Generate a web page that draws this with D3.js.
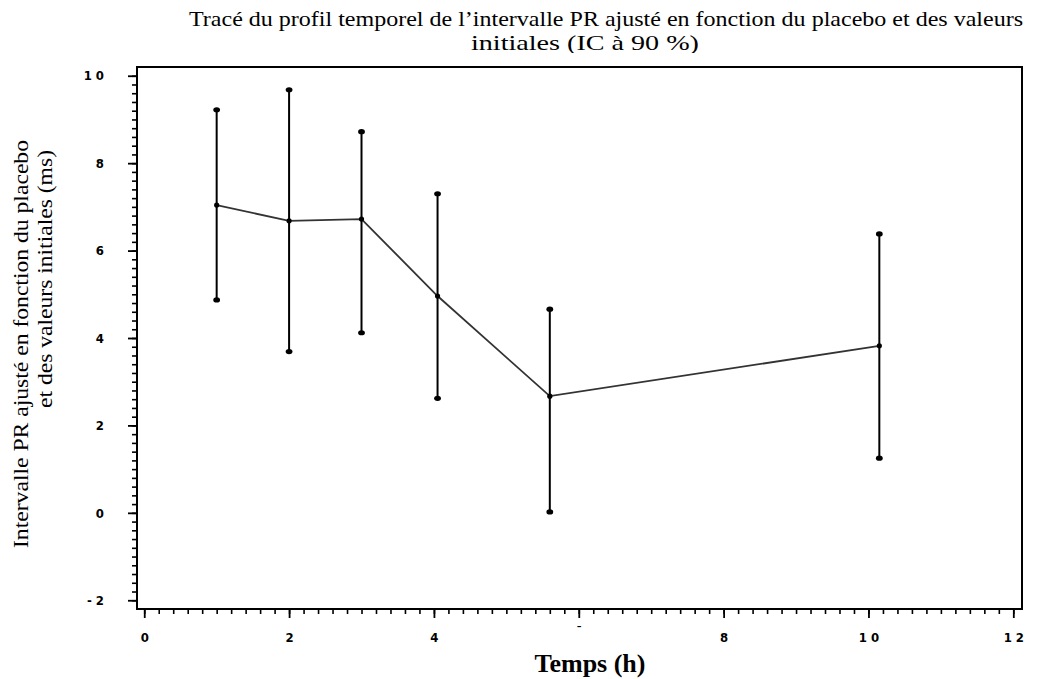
<!DOCTYPE html>
<html>
<head>
<meta charset="utf-8">
<script src="https://cdn.jsdelivr.net/npm/d3@7"></script>
<style>
  body { margin: 0; background: #fff; }
</style>
</head>
<body>
<div id="scene"></div>
<script>
// values
var times = [1, 2, 3, 4.05, 5.6, 10.15];
var means = [7.04, 6.68, 6.72, 4.96, 2.67, 3.82];
var lowers = [4.87, 3.69, 4.12, 2.62, 0.02, 1.25];
var uppers = [9.22, 9.68, 8.72, 7.30, 4.66, 6.38];

var xTicks = [0, 2, 4, 6, 8, 10, 12];
var xTickLabels = ["0", "2", "4", "\u00af", "8", "1 0", "1 2"];
var yTicks = [-2, 0, 2, 4, 6, 8, 10];
var yTickLabels = ["- 2", "0", "2", "4", "6", "8", "1 0"];

var titleLines = ["Trac\u00e9 du profil temporel de l\u2019intervalle PR ajust\u00e9 en fonction du placebo et des valeurs",
  "initiales (IC \u00e0 90 %)"];
var yLabelLines = ["Intervalle PR ajust\u00e9 en fonction du placebo", "et des valeurs initiales (ms)"];
var xLabel = "Temps (h)";

var ctx = {
  w: 1037,
  h: 679,
  left: 137,
  right: 1022,
  top: 67,
  bottom: 609
};

var serif = "'Liberation Serif', 'Times New Roman', serif";
var tickFont = "'DejaVu Sans Condensed', 'DejaVu Sans', sans-serif";

var svg = d3.select("#scene").append("svg")
  .attr("width", ctx.w)
  .attr("height", ctx.h);

var x = d3.scaleLinear().domain([-0.1, 12.12]).range([ctx.left, ctx.right]);
var y = d3.scaleLinear().domain([-2.2, 10.2]).range([ctx.bottom, ctx.top]);

// title (second line is cut at the bottom in the original)
svg.append("clipPath").attr("id", "titleClip")
  .append("rect").attr("x", 0).attr("y", 0).attr("width", ctx.w).attr("height", 53);

var title = svg.append("g").attr("clip-path", "url(#titleClip)");
title.append("text")
  .attr("x", 606).attr("y", 26)
  .attr("text-anchor", "middle")
  .attr("textLength", 834).attr("lengthAdjust", "spacingAndGlyphs")
  .style("font-family", serif).style("font-size", "22px")
  .text(titleLines[0]);
title.append("text")
  .attr("x", 585).attr("y", 50)
  .attr("text-anchor", "middle")
  .attr("textLength", 228).attr("lengthAdjust", "spacingAndGlyphs")
  .style("font-family", serif).style("font-size", "22px")
  .text(titleLines[1]);

// minor ticks
var xMinor = d3.range(0, 12.001, 0.2).map(function (d) { return +d.toFixed(1); });
var yMinor = d3.range(-2, 10.001, 0.2).map(function (d) { return +d.toFixed(1); });

svg.append("g")
  .attr("transform", "translate(0," + ctx.bottom + ")")
  .call(d3.axisBottom(x).tickValues(xMinor).tickSize(5).tickFormat(""))
  .call(function (g) { g.select(".domain").remove(); })
  .selectAll("line").attr("stroke-width", 1.6);

svg.append("g")
  .attr("transform", "translate(" + ctx.left + ",0)")
  .call(d3.axisLeft(y).tickValues(yMinor).tickSize(5).tickFormat(""))
  .call(function (g) { g.select(".domain").remove(); })
  .selectAll("line").attr("stroke-width", 1.6);

// major ticks
var xAxis = svg.append("g")
  .attr("transform", "translate(0," + ctx.bottom + ")")
  .call(d3.axisBottom(x).tickValues(xTicks).tickSize(9).tickPadding(15)
    .tickFormat(function (d, i) { return xTickLabels[i]; }));
xAxis.select(".domain").remove();
xAxis.selectAll("line").attr("stroke-width", 1.8);
xAxis.selectAll("text")
  .attr("font-family", tickFont).attr("font-size", 13).attr("font-weight", "bold");
xAxis.selectAll("text").filter(function (d) { return d === 6; }).attr("dy", "0.2em");

var yAxis = svg.append("g")
  .attr("transform", "translate(" + ctx.left + ",0)")
  .call(d3.axisLeft(y).tickValues(yTicks).tickSize(9).tickPadding(24)
    .tickFormat(function (d, i) { return yTickLabels[i]; }));
yAxis.select(".domain").remove();
yAxis.selectAll("line").attr("stroke-width", 1.8);
yAxis.selectAll("text")
  .attr("font-family", tickFont).attr("font-size", 13).attr("font-weight", "bold");

// frame
svg.append("rect")
  .attr("x", ctx.left).attr("y", ctx.top)
  .attr("width", ctx.right - ctx.left).attr("height", ctx.bottom - ctx.top)
  .attr("fill", "none").attr("stroke", "#000").attr("stroke-width", 2);

// error bars
var pts = times.map(function (t, i) {
  return { t: t, m: means[i], lo: lowers[i], hi: uppers[i] };
});

svg.selectAll(".bar").data(pts).enter().append("line")
  .attr("class", "bar")
  .attr("x1", function (d) { return x(d.t); }).attr("x2", function (d) { return x(d.t); })
  .attr("y1", function (d) { return y(d.lo); }).attr("y2", function (d) { return y(d.hi); })
  .attr("stroke", "#000").attr("stroke-width", 2);

// mean profile
var line = d3.line()
  .x(function (d) { return x(d.t); })
  .y(function (d) { return y(d.m); });

svg.append("path").datum(pts)
  .attr("d", line)
  .attr("fill", "none").attr("stroke", "#333").attr("stroke-width", 1.8);

var ends = [];
pts.forEach(function (d) {
  ends.push({ t: d.t, v: d.lo });
  ends.push({ t: d.t, v: d.hi });
});

svg.selectAll(".endMark").data(ends).enter().append("ellipse")
  .attr("class", "endMark")
  .attr("cx", function (d) { return x(d.t); })
  .attr("cy", function (d) { return y(d.v); })
  .attr("rx", 3.4).attr("ry", 2.6)
  .attr("fill", "#000");

svg.selectAll(".meanMark").data(pts).enter().append("circle")
  .attr("class", "meanMark")
  .attr("cx", function (d) { return x(d.t); })
  .attr("cy", function (d) { return y(d.m); })
  .attr("r", 2.6)
  .attr("fill", "#000");

// axis labels
svg.append("text")
  .attr("x", 590).attr("y", 672)
  .attr("text-anchor", "middle")
  .style("font-family", serif).style("font-size", "26px").style("font-weight", "bold")
  .text(xLabel);

svg.append("text")
  .attr("transform", "translate(28,344) rotate(-90)")
  .attr("text-anchor", "middle")
  .attr("textLength", 408).attr("lengthAdjust", "spacingAndGlyphs")
  .style("font-family", serif).style("font-size", "22px")
  .text(yLabelLines[0]);

svg.append("text")
  .attr("transform", "translate(52,279) rotate(-90)")
  .attr("text-anchor", "middle")
  .attr("textLength", 258).attr("lengthAdjust", "spacingAndGlyphs")
  .style("font-family", serif).style("font-size", "22px")
  .text(yLabelLines[1]);
</script>
</body>
</html>
